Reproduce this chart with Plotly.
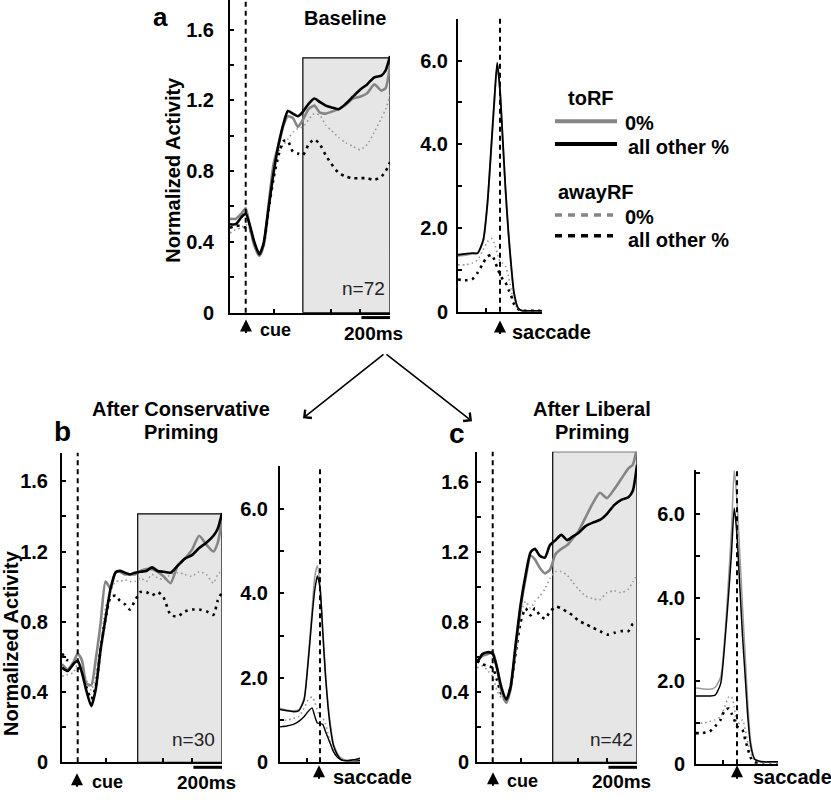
import plotly.graph_objects as go

# ---------------- data ----------------
# time grids (ms): cue-aligned (left panels) and saccade-aligned (right panels)
T_CUE = [-110, -70, -30, 0, 30, 60, 95, 125, 160, 195, 230, 265, 295, 330, 365,
         400, 440, 480, 520, 560, 600, 650, 700, 750, 800, 850, 900, 950, 980, 1010]
T_SAC = [-300, -250, -200, -160, -120, -90, -60, -40, -20, 0, 20, 40, 60, 80, 100,
         130, 160, 200, 250, 300]

# Panel a (Baseline) - cue aligned
a_to_other = [0.50,0.50,0.54,0.56,0.49,0.40,0.33,0.39,0.59,0.79,0.95,1.07,1.14,1.125,1.11,
              1.135,1.18,1.21,1.19,1.17,1.16,1.15,1.18,1.22,1.26,1.29,1.33,1.34,1.37,1.45]
a_to_zero = [0.53,0.53,0.56,0.59,0.48,0.38,0.32,0.38,0.61,0.84,0.95,1.06,1.11,1.10,1.05,
             1.09,1.15,1.17,1.13,1.125,1.135,1.15,1.175,1.21,1.22,1.24,1.29,1.255,1.27,1.40]
a_away_zero = [0.45,0.47,0.48,0.50,0.47,0.38,0.32,0.38,0.60,0.80,0.91,0.95,0.98,1.02,1.04,
               1.05,1.09,1.125,1.115,1.06,1.03,0.99,0.96,0.94,0.92,0.95,1.02,1.10,1.15,1.23]
a_away_other = [0.48,0.49,0.49,0.48,0.47,0.39,0.33,0.38,0.58,0.76,0.89,0.97,0.97,0.91,0.90,
                0.89,0.95,0.98,0.95,0.89,0.84,0.79,0.77,0.76,0.76,0.76,0.75,0.77,0.80,0.85]
# Panel a - saccade aligned
as_to_other = [1.36,1.38,1.40,1.40,1.71,2.58,4.07,5.09,5.95,5.30,4.10,2.90,1.90,1.10,0.45,0.08,0.02,0.02,0.02,0.02]
as_to_zero = [1.33,1.35,1.38,1.39,1.68,2.55,4.00,5.00,5.90,5.25,4.05,2.85,1.88,1.08,0.44,0.08,0.02,0.02,0.02,0.02]
as_away_zero = [1.12,1.12,1.16,1.24,1.48,1.67,1.75,1.63,1.40,1.20,1.16,1.08,0.85,0.53,0.22,0.06,0.02,0.02,0.02,0.02]
as_away_other = [0.77,0.75,0.77,0.93,1.16,1.32,1.36,1.24,1.05,0.89,0.77,0.69,0.53,0.38,0.18,0.06,0.02,0.02,0.02,0.02]

# Panel b (After Conservative Priming) - cue aligned
b_to_other = [0.54,0.52,0.56,0.58,0.51,0.41,0.32,0.41,0.64,0.82,0.99,1.08,1.09,1.08,1.07,
              1.08,1.085,1.09,1.11,1.09,1.085,1.08,1.12,1.16,1.18,1.22,1.25,1.29,1.33,1.42]
b_to_zero = [0.56,0.53,0.57,0.62,0.58,0.45,0.44,0.58,0.79,1.03,0.99,1.085,1.085,1.07,1.07,
             1.07,1.09,1.10,1.10,1.085,1.06,1.02,1.12,1.16,1.21,1.29,1.24,1.20,1.25,1.38]
b_away_zero = [0.49,0.50,0.51,0.56,0.54,0.47,0.41,0.49,0.67,0.88,0.97,1.03,1.03,1.04,1.03,
               1.03,1.05,1.03,1.07,1.05,1.04,1.07,1.08,1.07,1.06,1.085,1.07,1.02,1.07,1.09]
b_away_other = [0.62,0.58,0.56,0.54,0.52,0.43,0.36,0.43,0.64,0.82,0.94,0.95,0.92,0.90,0.87,
                0.92,0.97,0.97,0.95,0.97,0.94,0.84,0.83,0.86,0.87,0.87,0.86,0.84,0.92,0.97]
# Panel b - saccade aligned
bs_to_other = [1.25,1.22,1.20,1.22,1.47,2.33,3.43,4.06,4.41,4.13,3.12,2.10,1.32,0.77,0.41,0.18,0.06,0.04,0.06,0.10]
bs_to_zero = [1.28,1.24,1.22,1.24,1.51,2.41,3.59,4.37,4.65,4.21,3.20,2.18,1.39,0.85,0.45,0.22,0.10,0.05,0.05,0.08]
bs_away_zero = [1.00,1.00,1.04,1.08,1.28,1.47,1.55,1.43,1.24,1.08,1.06,0.92,0.69,0.45,0.30,0.14,0.06,0.04,0.04,0.04]
bs_away_other = [0.84,0.86,0.90,0.97,1.08,1.20,1.29,1.10,0.93,0.92,0.90,0.74,0.58,0.42,0.26,0.12,0.06,0.04,0.04,0.04]

# Panel c (After Liberal Priming) - cue aligned
c_to_other = [0.57,0.62,0.63,0.62,0.54,0.43,0.36,0.43,0.67,0.90,1.07,1.20,1.22,1.18,1.17,
              1.24,1.27,1.30,1.27,1.29,1.31,1.35,1.37,1.385,1.42,1.47,1.50,1.515,1.55,1.70]
c_to_zero = [0.58,0.61,0.62,0.63,0.54,0.41,0.34,0.42,0.65,0.88,1.05,1.18,1.16,1.11,1.08,
             1.10,1.19,1.22,1.24,1.28,1.32,1.40,1.48,1.54,1.51,1.56,1.62,1.68,1.70,1.80]
c_away_zero = [0.54,0.55,0.52,0.49,0.41,0.37,0.36,0.45,0.65,0.84,0.92,0.88,0.92,0.95,0.99,
               1.05,1.09,1.09,1.07,1.03,0.99,0.95,0.935,0.93,0.97,0.98,0.97,0.99,1.03,1.07]
c_away_other = [0.58,0.56,0.55,0.54,0.47,0.39,0.35,0.43,0.62,0.80,0.88,0.84,0.88,0.84,0.82,
                0.86,0.89,0.88,0.86,0.84,0.81,0.79,0.77,0.75,0.73,0.74,0.75,0.75,0.79,0.80]
# Panel c - saccade aligned
cs_to_other = [1.64,1.64,1.64,1.66,1.93,2.88,4.14,5.09,6.15,5.50,4.30,3.10,2.10,1.10,0.45,0.12,0.08,0.06,0.06,0.06]
cs_to_zero = [1.83,1.81,1.80,1.85,2.09,3.04,4.54,5.64,7.06,6.30,5.10,3.80,2.60,1.40,0.55,0.12,0.06,0.05,0.05,0.05]
cs_away_zero = [0.99,0.99,1.03,1.07,1.14,1.38,1.62,1.62,1.38,0.99,0.99,1.07,0.83,0.51,0.28,0.08,0.05,0.05,0.05,0.05]
cs_away_other = [0.75,0.75,0.79,0.91,1.07,1.30,1.34,1.22,1.07,0.91,0.87,0.83,0.59,0.36,0.16,0.05,0.05,0.05,0.05,0.05]

N_LABELS = ["n=72", "n=30", "n=42"]
Y_TICKS_L = [0, 0.2, 0.4, 0.6, 0.8, 1.0, 1.2, 1.4, 1.6]
Y_TEXT_L = ["0", "", "0.4", "", "0.8", "", "1.2", "", "1.6"]
Y_TICKS_R = [0, 1, 2, 3, 4, 5, 6, 7]
Y_TEXT_R = ["0", "", "2.0", "", "4.0", "", "6.0", ""]

# ---------------- layout helpers ----------------
W, H = 831, 800
def P(px):
    return px / W
def Q(py):
    return 1 - py / H

FONT = "Arial, Liberation Sans, sans-serif"
GRAY = "#858585"
LGRAY = "#9a9a9a"

fig = go.Figure()

def add_set(xa, ya, t, to_zero, to_other, away_zero, away_other, solid_w, away_other_solid=False):
    axes = dict(xaxis=xa, yaxis=ya, mode="lines", showlegend=False, hoverinfo="skip")
    fig.add_trace(go.Scatter(x=t, y=away_zero, line=dict(color=LGRAY, width=1.6, dash="1.6px,3px",
                                                        shape="spline", smoothing=0.6), **axes))
    if away_other_solid:
        fig.add_trace(go.Scatter(x=t, y=away_other, line=dict(color="black", width=1.4,
                                                             shape="spline", smoothing=0.6), **axes))
    else:
        fig.add_trace(go.Scatter(x=t, y=away_other, line=dict(color="black", width=2.6, dash="2.6px,4.5px",
                                                             shape="spline", smoothing=0.6), **axes))
    fig.add_trace(go.Scatter(x=t, y=to_zero, line=dict(color=GRAY if solid_w > 2 else LGRAY, width=solid_w,
                                                      shape="spline", smoothing=0.6), **axes))
    fig.add_trace(go.Scatter(x=t, y=to_other, line=dict(color="black", width=solid_w,
                                                       shape="spline", smoothing=0.6), **axes))

add_set("x", "y", T_CUE, a_to_zero, a_to_other, a_away_zero, a_away_other, 2.6)
add_set("x2", "y2", T_SAC, as_to_zero, as_to_other, as_away_zero, as_away_other, 1.8)
add_set("x3", "y3", T_CUE, b_to_zero, b_to_other, b_away_zero, b_away_other, 2.6)
add_set("x4", "y4", T_SAC, bs_to_zero, bs_to_other, bs_away_zero, bs_away_other, 1.5, away_other_solid=True)
add_set("x5", "y5", T_CUE, c_to_zero, c_to_other, c_away_zero, c_away_other, 2.6)
add_set("x6", "y6", T_SAC, cs_to_zero, cs_to_other, cs_away_zero, cs_away_other, 1.5)

# axis geometry (pixel boxes)
boxes = {
    1: dict(x=(230, 390), y=(317, 0), yr=1.767, left=True, standoff=10),
    2: dict(x=(458, 542), y=(316, 19), yr=7.0, left=False, standoff=4),
    3: dict(x=(62, 222), y=(773, 459), yr=1.763, left=True, standoff=8),
    4: dict(x=(280, 360), y=(773, 473), yr=7.0, left=False, standoff=6),
    5: dict(x=(477, 637), y=(773, 458), yr=1.775, left=True, standoff=2),
    6: dict(x=(696, 778), y=(775, 477), yr=7.05, left=False, standoff=5),
}
layout_axes = {}
for i, b in boxes.items():
    xs = "" if i == 1 else str(i)
    common = dict(showgrid=False, zeroline=False, showline=True, linecolor="black", linewidth=2,
                  ticks="inside", ticklen=4, tickwidth=1.5, tickcolor="black", fixedrange=True)
    if b["left"]:
        xr, xt = [-110, 1010], [200, 600, 800]
        yt, ytt = Y_TICKS_L, Y_TEXT_L
    else:
        xr, xt = [-300, 300], [-100]
        yt, ytt = Y_TICKS_R, Y_TEXT_R
    layout_axes["xaxis" + xs] = dict(domain=[P(b["x"][0]), P(b["x"][1])], range=xr, tickvals=xt,
                                     showticklabels=False, anchor="y" + xs, **common)
    layout_axes["yaxis" + xs] = dict(domain=[Q(b["y"][0]), Q(b["y"][1])], range=[0, b["yr"]],
                                     tickvals=yt, ticktext=ytt, anchor="x" + xs,
                                     ticklabelstandoff=b["standoff"],
                                     tickfont=dict(family=FONT, size=20, color="black", weight="bold"),
                                     **common)
fig.update_layout(**layout_axes)

shapes = []
annotations = []

# grey analysis windows
for xs, x0, ytop, yref in [("x", 400, 1.44, "y"), ("x3", 420, 1.415, "y3"), ("x5", 420, 1.775, "y5")]:
    shapes.append(dict(type="rect", xref=xs, yref=yref, x0=x0, x1=1010, y0=0, y1=ytop,
                       fillcolor="#e6e6e6", line=dict(color="black", width=1.2), layer="below"))

# cue / saccade dashed lines
for xs, ys in [("x", "y"), ("x2", "y2"), ("x3", "y3"), ("x4", "y4"), ("x5", "y5"), ("x6", "y6")]:
    shapes.append(dict(type="line", xref=xs, yref=ys + " domain", x0=0, x1=0, y0=0, y1=1,
                       line=dict(color="black", width=2, dash="5px,4px")))

# 200 ms scale bars
for xs, ys, dom_h in [("x", "y", 317), ("x3", "y3", 314), ("x5", "y5", 315)]:
    shapes.append(dict(type="line", xref=xs, yref=ys + " domain", x0=810, x1=1010,
                       y0=-5.0 / dom_h, y1=-5.0 / dom_h, line=dict(color="black", width=3)))

# legend
shapes += [
    dict(type="line", xref="paper", yref="paper", x0=P(555), x1=P(617), y0=Q(123), y1=Q(123),
         line=dict(color=GRAY, width=4)),
    dict(type="line", xref="paper", yref="paper", x0=P(555), x1=P(617), y0=Q(146), y1=Q(146),
         line=dict(color="black", width=4)),
    dict(type="line", xref="paper", yref="paper", x0=P(555), x1=P(613), y0=Q(218), y1=Q(218),
         line=dict(color=GRAY, width=3.5, dash="7px,6px")),
    dict(type="line", xref="paper", yref="paper", x0=P(555), x1=P(613), y0=Q(239), y1=Q(239),
         line=dict(color="black", width=3.5, dash="7px,6px")),
]

def text(px, py, s, size=20, bold=True, anchor="center", angle=0, color="black", yanchor="middle"):
    annotations.append(dict(xref="paper", yref="paper", x=P(px), y=Q(py), text=s, showarrow=False,
                            xanchor=anchor, yanchor=yanchor, textangle=angle,
                            font=dict(family=FONT, size=size, color=color,
                                      weight="bold" if bold else "normal")))

def up_arrow(px, py_tip, length=15):
    annotations.append(dict(xref="paper", yref="paper", x=P(px), y=Q(py_tip), ax=0, ay=length,
                            text="", showarrow=True, arrowhead=2, arrowsize=1.2, arrowwidth=2,
                            arrowcolor="black"))

# legend text
text(566, 99, "toRF", anchor="left")
text(623, 125, "0%", anchor="left")
text(626, 149, "all other %", anchor="left")
text(556, 195, "awayRF", anchor="left")
text(623, 220, "0%", anchor="left")
text(626, 243, "all other %", anchor="left")

# titles / panel letters
text(160, 0, "a", size=26, yanchor="top")
text(345, 18, "Baseline")
text(62, 438, "b", size=28)
text(181, 415, "After Conservative")
text(181, 438, "Priming")
text(457, 440, "c", size=28)
text(592, 415, "After Liberal")
text(592, 438, "Priming")

# y-axis labels
text(173, 172, "Normalized Activity", angle=-90)
text(11, 652, "Normalized Activity", angle=-90)

# n labels
text(363, 293, N_LABELS[0], size=19, bold=False, color="#222")
text(193, 750, N_LABELS[1], size=19, bold=False, color="#222")
text(611, 750, N_LABELS[2], size=19, bold=False, color="#222")

# cue / saccade labels and 200ms
up_arrow(246, 324)
text(258, 335, "cue", size=18, anchor="left")
text(373, 338, "200ms", size=19)
up_arrow(500, 325)
text(510, 337, "saccade", anchor="left")

up_arrow(77, 784)
text(90, 793, "cue", size=18, anchor="left")
text(206, 793, "200ms", size=19)
up_arrow(319, 776)
text(331, 788, "saccade", anchor="left")

up_arrow(493, 783)
text(505, 792, "cue", size=18, anchor="left")
text(621, 792, "200ms", size=19)
up_arrow(737, 776)
text(751, 788, "saccade", anchor="left")

# branching arrows
for tip in [(303, 424), (472, 427)]:
    annotations.append(dict(xref="paper", yref="paper", x=P(tip[0]), y=Q(tip[1]),
                            ax=385 - tip[0], ay=359 - tip[1], text="", showarrow=True,
                            arrowhead=4, arrowsize=1.3, arrowwidth=1.6, arrowcolor="black"))

fig.update_layout(width=W, height=H, margin=dict(l=0, r=0, t=0, b=0),
                  paper_bgcolor="white", plot_bgcolor="white",
                  shapes=shapes, annotations=annotations, showlegend=False)

fig.write_html("out.html", config={"displayModeBar": False},
               post_script="document.body.style.margin='0px';")
